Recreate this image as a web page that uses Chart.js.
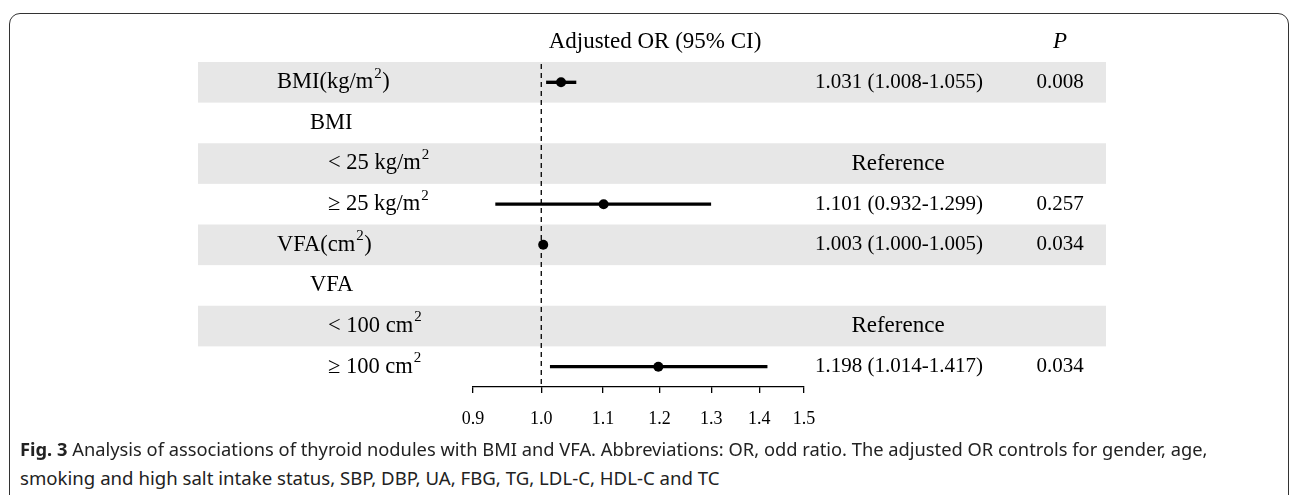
<!DOCTYPE html>
<html>
<head>
<meta charset="utf-8">
<script src="https://cdn.jsdelivr.net/npm/chart.js@4.4.0/dist/chart.umd.min.js"></script>
<style>
  html, body { margin: 0; padding: 0; background: #fff; }
  body { width: 1292px; height: 495px; position: relative; overflow: hidden; }
  #frame { position: absolute; left: 9px; top: 13px; width: 1280px; height: 540px;
           border: 1.6px solid #333; border-radius: 11px; box-sizing: border-box; }
  #chart { position: absolute; left: 0; top: 0; }
  .cap { position: absolute; left: 20px; font-family: "Noto Sans", sans-serif; font-size: 17.5px;
         color: #222; white-space: nowrap; line-height: 1; transform-origin: 0 50%; }
</style>
</head>
<body>
<div id="frame"></div>
<canvas id="chart" width="1292" height="440"></canvas>
<div class="cap" id="cap1" style="top:441px"><b>Fig. 3</b> Analysis of associations of thyroid nodules with BMI and VFA. Abbreviations: OR, odd ratio. The adjusted OR controls for gender, age,</div>
<div class="cap" id="cap2" style="top:470px">smoking and high salt intake status, SBP, DBP, UA, FBG, TG, LDL-C, HDL-C and TC</div>
<script>
// Rows of the forest plot (top to bottom)
const rowLabels = ["BMI(kg/m²)", "BMI", "< 25 kg/m²", "≥ 25 kg/m²", "VFA(cm²)", "VFA", "< 100 cm²", "≥ 100 cm²"];
const rowLevel = [0, 1, 2, 2, 0, 1, 2, 2];

// Adjusted odds ratios and 95% CI
const orValues = [1.031, null, null, 1.101, 1.003, null, null, 1.198];
const ciLower = [1.008, null, null, 0.932, 1.000, null, null, 1.014];
const ciUpper = [1.055, null, null, 1.299, 1.005, null, null, 1.417];
const orText = ["1.031 (1.008-1.055)", "", "Reference", "1.101 (0.932-1.299)", "1.003 (1.000-1.005)", "", "Reference", "1.198 (1.014-1.417)"];
const pValues = ["0.008", "", "", "0.257", "0.034", "", "", "0.034"];

// x axis ticks
const tickValues = [0.9, 1.0, 1.1, 1.2, 1.3, 1.4, 1.5];

const serif = '"Liberation Serif", "Times New Roman", serif';
const levelX = [277, 310, 328];

// draws a label, turning "²" into a raised, smaller 2
function drawLabel(ctx, text, x, y, size) {
  const parts = text.split('²');
  let cx = x;
  parts.forEach((p, k) => {
    ctx.font = size + 'px ' + serif;
    ctx.fillText(p, cx, y);
    cx += ctx.measureText(p).width;
    if (k < parts.length - 1) {
      ctx.font = Math.round(size * 0.68) + 'px ' + serif;
      ctx.fillText('2', cx + 1, y - size * 0.38);
      cx += ctx.measureText('2').width + 1.5;
    }
  });
}

// Gray bands, dashed line at OR = 1 and the text columns
const forestDecor = {
  id: 'forestDecor',
  beforeDatasetsDraw(chart) {
    const { ctx, chartArea, scales: { x, y } } = chart;
    const rowH = Math.abs(y.getPixelForValue(1) - y.getPixelForValue(0));
    ctx.save();
    ctx.fillStyle = '#e7e7e7';
    rowLabels.forEach((l, i) => {
      if (i % 2 === 0) {
        const cy = y.getPixelForValue(i);
        ctx.fillRect(198, cy - rowH / 2, 1106 - 198, rowH);
      }
    });
    const x1 = x.getPixelForValue(1);
    ctx.strokeStyle = '#000';
    ctx.lineWidth = 1.3;
    ctx.setLineDash([5, 4]);
    ctx.beginPath();
    ctx.moveTo(x1, chartArea.top + 2);
    ctx.lineTo(x1, chartArea.bottom);
    ctx.stroke();
    ctx.restore();
  },
  afterDatasetsDraw(chart) {
    const { ctx, scales: { y } } = chart;
    const rowH = Math.abs(y.getPixelForValue(1) - y.getPixelForValue(0));
    ctx.save();
    ctx.fillStyle = '#000';
    ctx.textBaseline = 'middle';

    // header row
    const hy = y.getPixelForValue(0) - rowH;
    ctx.font = '23px ' + serif;
    ctx.textAlign = 'center';
    ctx.fillText('Adjusted OR (95% CI)', 655, hy);
    ctx.font = 'italic 23px ' + serif;
    ctx.fillText('P', 1060, hy);

    rowLabels.forEach((label, i) => {
      const cy = y.getPixelForValue(i);
      ctx.textAlign = 'left';
      drawLabel(ctx, label, levelX[rowLevel[i]], cy, 22.5);

      if (orText[i] === 'Reference') {
        ctx.font = '23px ' + serif;
        ctx.textAlign = 'center';
        ctx.fillText(orText[i], 898, cy);
      } else if (orText[i]) {
        ctx.font = '21px ' + serif;
        ctx.textAlign = 'left';
        ctx.fillText(orText[i], 815, cy);
      }
      if (pValues[i]) {
        ctx.font = '21px ' + serif;
        ctx.textAlign = 'center';
        ctx.fillText(pValues[i], 1060, cy);
      }
    });
    ctx.restore();
  }
};

const ctx = document.getElementById('chart').getContext('2d');
new Chart(ctx, {
  type: 'bar',
  data: {
    labels: rowLabels,
    datasets: [
      {
        type: 'line',
        label: 'OR',
        indexAxis: 'y',
        data: orValues,
        showLine: false,
        pointRadius: 5,
        pointBackgroundColor: '#000',
        pointBorderColor: '#000',
        pointBorderWidth: 0,
        order: 0
      },
      {
        label: '95% CI',
        data: ciLower.map((lo, i) => lo === null ? null : [lo, ciUpper[i]]),
        backgroundColor: '#000',
        borderWidth: 0,
        barThickness: 2.7,
        order: 1
      }
    ]
  },
  options: {
    indexAxis: 'y',
    responsive: false,
    animation: false,
    devicePixelRatio: 1,
    layout: { padding: { left: 473, right: 1292 - 804, top: 62, bottom: 8 } },
    plugins: { legend: { display: false }, tooltip: { enabled: false } },
    scales: {
      x: {
        type: 'logarithmic',
        min: 0.9,
        max: 1.5,
        afterBuildTicks: (scale) => { scale.ticks = tickValues.map(v => ({ value: v })); },
        afterFit: (scale) => { scale.height = 45; },
        border: { display: true, color: '#000', width: 1.3 },
        grid: { drawOnChartArea: false, drawTicks: true, tickLength: 6, color: '#000', lineWidth: 1.3 },
        ticks: {
          autoSkip: false,
          maxRotation: 0,
          padding: 15,
          color: '#000',
          font: { family: serif, size: 18 },
          callback: (v) => Number(v).toFixed(1)
        }
      },
      y: {
        type: 'category',
        display: false,
        offset: true
      }
    }
  },
  plugins: [forestDecor]
});

// fit the caption lines to the widths of the original
document.fonts.ready.then(() => {
  [['cap1', 1188], ['cap2', 699]].forEach(([id, target]) => {
    const el = document.getElementById(id);
    el.style.transform = 'scaleX(' + (target / el.offsetWidth) + ')';
  });
});
</script>
</body>
</html>
